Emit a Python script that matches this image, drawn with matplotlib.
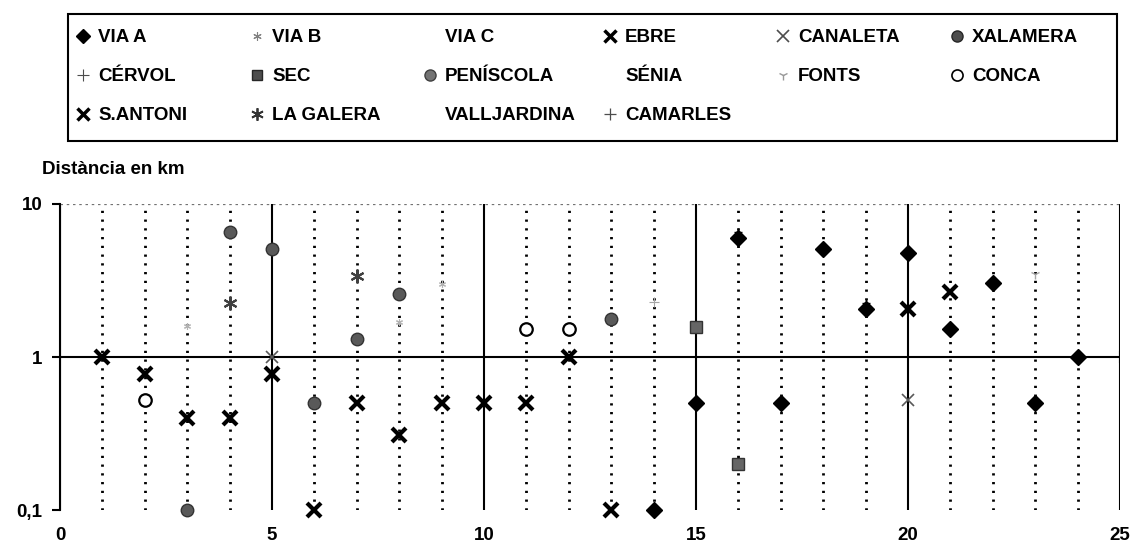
import matplotlib
matplotlib.use("Agg")
import matplotlib.pyplot as plt
from matplotlib.lines import Line2D
from matplotlib.patches import Rectangle
from matplotlib.ticker import FixedLocator, MultipleLocator

plt.rcParams['font.family'] = ['Liberation Sans', 'DejaVu Sans']
plt.rcParams['font.weight'] = 'bold'
FS = 13.5

# -------------------------------
# Data: distance (km) per sample position
# -------------------------------
via_a_x = [14, 15, 16, 17, 18, 19, 20, 21, 22, 23, 24]
via_a_y = [0.1, 0.5, 6.0, 0.5, 5.1, 2.05, 4.8, 1.53, 3.06, 0.5, 1.0]

via_b_x = [3, 8, 9]
via_b_y = [1.6, 1.7, 3.0]

ebre_x = [1, 2, 3, 4, 5, 6, 7, 8, 9, 10, 11, 12, 13]
ebre_y = [1.0, 0.78, 0.4, 0.4, 0.78, 0.1, 0.5, 0.31, 0.5, 0.5, 0.5, 1.0, 0.1]

canaleta_x = [5, 20]
canaleta_y = [1.0, 0.52]

xalamera_x = [3, 4, 5, 6, 7, 8, 13]
xalamera_y = [0.1, 6.6, 5.1, 0.5, 1.32, 2.6, 1.76]

cervol_x = [14]
cervol_y = [2.3]

sec_x = [15, 16]
sec_y = [1.56, 0.2]

fonts_x = [23]
fonts_y = [3.5]

conca_x = [2, 11, 12]
conca_y = [0.52, 1.53, 1.53]

santoni_x = [20, 21]
santoni_y = [2.05, 2.67]

lagalera_x = [4, 7]
lagalera_y = [2.24, 3.4]

camarles_x = [16, 19]
camarles_y = [6.6, 2.25]

# -------------------------------
# Figure and axes
# -------------------------------
fig = plt.figure(figsize=(11.32, 5.48), dpi=100)
ax = fig.add_axes([60 / 1132, 38 / 548, 1060 / 1132, 306 / 548])
ax.set_xlim(0, 25)
ax.set_yscale('log')
ax.set_ylim(0.1, 10)

# grid: solid every 5, dotted every 1
ax.xaxis.set_major_locator(MultipleLocator(5))
ax.xaxis.set_minor_locator(MultipleLocator(1))
ax.grid(True, axis='x', which='major', color='black', lw=1.5, ls='-')
ax.grid(True, axis='x', which='minor', color='black', lw=2.0, ls=(0, (0.8, 2.35)))
ax.axhline(10, color='0.45', lw=0.9, ls=(0, (2, 3)))
ax.axhline(1, color='black', lw=1.5)
ax.axvline(25, 0.485, 0.515, color='black', lw=1.5)

for s in ['top', 'right', 'bottom']:
    ax.spines[s].set_visible(False)
ax.spines['left'].set_linewidth(1.5)

ax.yaxis.set_major_locator(FixedLocator([0.1, 1, 10]))
ax.yaxis.set_minor_locator(FixedLocator([]))
ax.set_yticklabels(['0,1', '1', '10'])
ax.tick_params(axis='y', which='major', length=6, width=1.5, pad=6.5, labelsize=FS)
ax.tick_params(axis='x', which='both', length=0, pad=12, labelsize=FS)
for lab in ax.get_xticklabels() + ax.get_yticklabels():
    lab.set_fontweight('bold')

# -------------------------------
# Series
# -------------------------------
kw = dict(linestyle='None', clip_on=False, zorder=5)
ax.plot(via_b_x, via_b_y, marker=(6, 2, 0), ms=5, mec='0.7', mew=0.8, **kw)
ax.plot(ebre_x, ebre_y, marker='x', ms=10, mec='black', mew=3, **kw)
ax.plot(canaleta_x, canaleta_y, marker='x', ms=9, mec='0.35', mew=1.2, **kw)
ax.plot(xalamera_x, xalamera_y, marker='o', ms=9, mfc='0.35', mec='0.2', mew=1, **kw)
ax.plot(cervol_x, cervol_y, marker='+', ms=7, mec='0.65', mew=0.8, **kw)
ax.plot(sec_x, sec_y, marker='s', ms=8, mfc='0.4', mec='0.2', mew=1, **kw)
ax.plot(fonts_x, fonts_y, marker='1', ms=7, mec='0.65', mew=1, **kw)
ax.plot(conca_x, conca_y, marker='o', ms=9, mfc='white', mec='black', mew=1.6, **kw)
ax.plot(santoni_x, santoni_y, marker='x', ms=10, mec='black', mew=3, **kw)
ax.plot(lagalera_x, lagalera_y, marker=(6, 2, 0), ms=10, mec='0.25', mew=1.5, **kw)
ax.plot(via_a_x, via_a_y, marker='D', ms=8.5, mfc='black', mec='black', **kw)
ax.plot(camarles_x, camarles_y, marker='+', ms=6, mec='black', mew=1, **kw)

fig.text(42 / 1132, 1 - 170 / 548, 'Distància en km', fontsize=FS,
         fontweight='bold', va='center', ha='left')

# -------------------------------
# Legend: six columns in a shared box
# -------------------------------
def h(**k):
    return Line2D([], [], linestyle='None', **k)

columns = [
    [(h(marker='D', ms=7, mfc='black', mec='black'), 'VIA A'),
     (h(marker='+', ms=9, mec='0.3', mew=0.8), 'CÉRVOL'),
     (h(marker='x', ms=9, mec='black', mew=2.5), 'S.ANTONI')],
    [(h(marker=(6, 2, 0), ms=6, mec='0.5', mew=0.8), 'VIA B'),
     (h(marker='s', ms=7, mfc='0.3', mec='0.15'), 'SEC'),
     (h(marker=(6, 2, 0), ms=9, mec='0.2', mew=1.3), 'LA GALERA')],
    [(h(marker='None'), 'VIA C'),
     (h(marker='o', ms=8, mfc='0.45', mec='0.25'), 'PENÍSCOLA'),
     (h(marker='None'), 'VALLJARDINA')],
    [(h(marker='x', ms=9, mec='black', mew=2.5), 'EBRE'),
     (h(marker='None'), 'SÉNIA'),
     (h(marker='+', ms=9, mec='0.3', mew=0.9), 'CAMARLES')],
    [(h(marker='x', ms=8, mec='0.3', mew=1.2), 'CANALETA'),
     (h(marker='1', ms=7, mec='0.6', mew=1), 'FONTS')],
    [(h(marker='o', ms=8, mfc='0.3', mec='0.15'), 'XALAMERA'),
     (h(marker='o', ms=8, mfc='white', mec='black', mew=1.2), 'CONCA')],
]
col_px = [83, 257, 430, 610, 783, 957]  # marker centres
handle_px = 0.8 * FS * 100 / 72
for cx, col in zip(col_px, columns):
    fig.legend([c[0] for c in col], [c[1] for c in col],
               loc='upper left',
               bbox_to_anchor=((cx - handle_px / 2) / 1132, 1 - 29 / 548),
               frameon=False, borderpad=0, borderaxespad=0,
               handlelength=0.8, handletextpad=0.4, labelspacing=1.17,
               prop={'weight': 'bold', 'size': FS})

fig.add_artist(Rectangle((68 / 1132, 1 - 141 / 548), 1049 / 1132, 127 / 548,
                         transform=fig.transFigure, fill=False,
                         edgecolor='black', lw=1.5))

fig.savefig('out.png', dpi=100)
